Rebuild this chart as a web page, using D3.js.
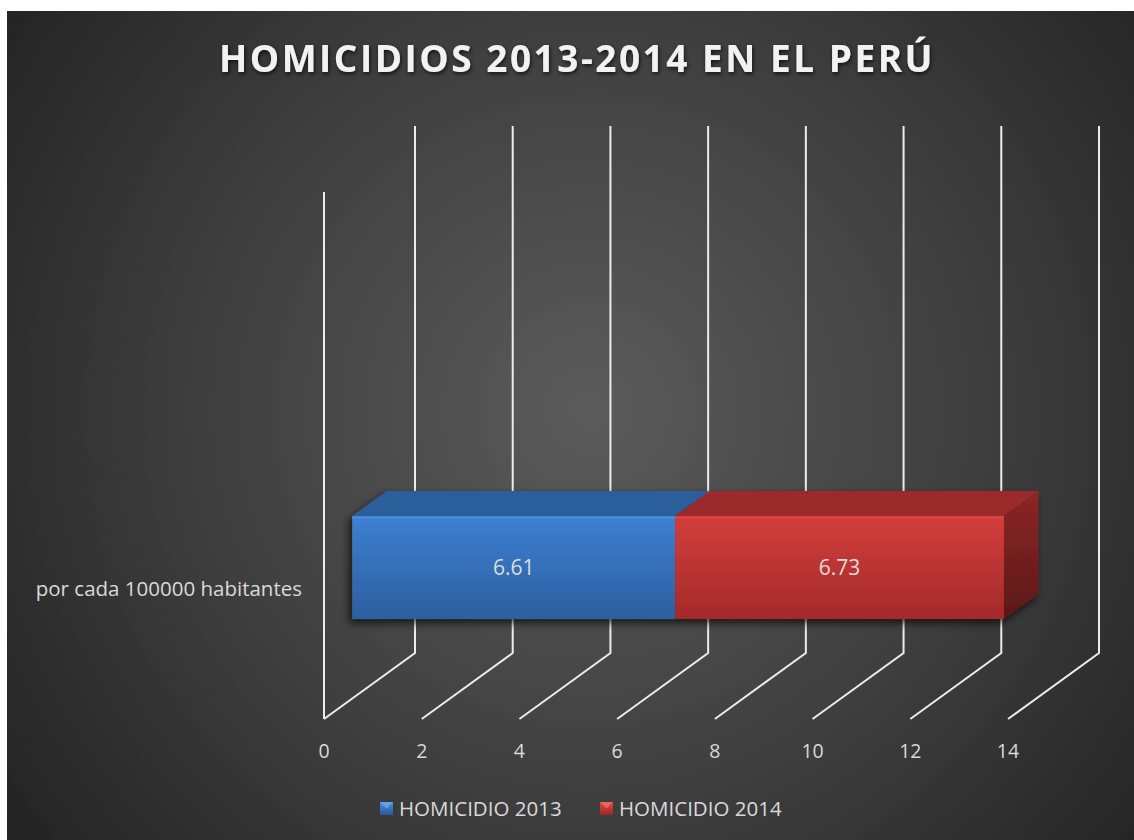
<!DOCTYPE html>
<html><head><meta charset="utf-8">
<script src="https://cdn.jsdelivr.net/npm/d3@7/dist/d3.min.js"></script>
<style>html,body{margin:0;padding:0;background:#fff;}svg{display:block;}</style>
</head><body>
<script>
const categories = ["por cada 100000 habitantes"];
const series = ["HOMICIDIO 2013", "HOMICIDIO 2014"];
const values2013 = [6.61];
const values2014 = [6.73];
const xTicks = [0, 2, 4, 6, 8, 10, 12, 14];
const titleText = "HOMICIDIOS 2013-2014 EN EL PERÚ";

const W = 1134, H = 840;
const svg = d3.select("body").append("svg").attr("width", W).attr("height", H);
const defs = svg.append("defs");

// background
const bg = defs.append("radialGradient").attr("id","bg").attr("gradientUnits","userSpaceOnUse")
  .attr("cx",590).attr("cy",410).attr("r",720);
bg.append("stop").attr("offset","0").attr("stop-color","#5b5b5b");
bg.append("stop").attr("offset","0.55").attr("stop-color","#3e3e3e");
bg.append("stop").attr("offset","1").attr("stop-color","#232323");
svg.append("rect").attr("x",7).attr("y",11).attr("width",W-7).attr("height",H-11).attr("fill","url(#bg)");

function vGrad(id, c1, c2){
  const g = defs.append("linearGradient").attr("id",id).attr("x1",0).attr("y1",0).attr("x2",0).attr("y2",1);
  g.append("stop").attr("offset","0").attr("stop-color",c1);
  g.append("stop").attr("offset","1").attr("stop-color",c2);
}
vGrad("blueFront","#3d80d2","#2d5e9f");
vGrad("redFront","#d33e3c","#a32a29");
vGrad("redSide","#8c2626","#5c1818");
vGrad("blueSide","#2a558c","#1e3f6a");
vGrad("legBlue","#4a8ee0","#2a5a9a");
vGrad("legRed","#e04848","#9c2626");

const sh = defs.append("filter").attr("id","shadow").attr("x","-20%").attr("y","-30%").attr("width","140%").attr("height","160%");
sh.append("feGaussianBlur").attr("in","SourceAlpha").attr("stdDeviation",4).attr("result","b");
sh.append("feOffset").attr("in","b").attr("dx",-3).attr("dy",4).attr("result","o");
sh.append("feComponentTransfer").attr("in","o").attr("result","o2").append("feFuncA").attr("type","linear").attr("slope",0.7);
const m = sh.append("feMerge"); m.append("feMergeNode").attr("in","o2"); m.append("feMergeNode").attr("in","SourceGraphic");

const ts = defs.append("filter").attr("id","tshadow").attr("x","-5%").attr("y","-30%").attr("width","110%").attr("height","160%");
ts.append("feDropShadow").attr("dx",1).attr("dy",2).attr("stdDeviation",2).attr("flood-color","#000").attr("flood-opacity",0.7);

// 3D projection
const floorY = 719, wallH = 527, depthDX = 91, depthDY = -66;
const x = d3.scaleLinear().domain([0, 14]).range([324, 1008]);
const yBand = d3.scaleBand().domain(categories).range([0, wallH]).paddingInner(0).paddingOuter(2.06).align(0.1875);
function P(v, h, d){ return [x(v) + depthDX*d, floorY - h - (-depthDY)*d]; }
const line = d3.line();

const gridG = svg.append("g").attr("stroke","#ececec").attr("stroke-width",2).attr("fill","none").attr("stroke-linecap","butt");
gridG.append("path").attr("d", line([P(0,0,0), P(0,wallH,0)]));
xTicks.forEach(t => {
  gridG.append("path").attr("d", line([P(t,0,0), P(t,0,1), P(t,wallH,1)]));
});

// tick labels
svg.append("g").selectAll("text").data(xTicks).join("text")
  .attr("x", d => x(d)).attr("y", 758).attr("text-anchor","middle")
  .attr("font-family","'Open Sans', sans-serif").attr("font-size",19.5).attr("fill","#d9d9d9")
  .text(d => d);

// bars
const d0 = 0.31, d1 = 0.69;
const barG = svg.append("g").attr("filter","url(#shadow)");
categories.forEach((c, i) => {
  const h0 = yBand(c), h1 = yBand(c) + yBand.bandwidth();
  const segs = [
    {s: 0, e: values2013[i], front: "url(#blueFront)", top: "#2c5e9b", side: "url(#blueSide)", label: values2013[i]},
    {s: values2013[i], e: values2013[i] + values2014[i], front: "url(#redFront)", top: "#9b2b2a", side: "url(#redSide)", label: values2014[i]}
  ];
  segs.forEach((sg, k) => {
    barG.append("path").attr("fill", sg.top)
      .attr("d", line([P(sg.s,h1,d0), P(sg.s,h1,d1), P(sg.e,h1,d1), P(sg.e,h1,d0)]) + "Z");
    const a = P(sg.s,h1,d0), b = P(sg.e,h0,d0);
    barG.append("rect").attr("x", a[0]).attr("y", a[1]).attr("width", b[0]-a[0]).attr("height", b[1]-a[1]).attr("fill", sg.front);
    barG.append("line").attr("x1",a[0]).attr("x2",b[0]).attr("y1",a[1]+1.5).attr("y2",a[1]+1.5)
      .attr("stroke", k===0 ? "#4a8ddf" : "#e04643").attr("stroke-width",2);
    if (k === segs.length - 1) {
      barG.append("path").attr("fill", sg.side)
        .attr("d", line([P(sg.e,h1,d0), P(sg.e,h1,d1), P(sg.e,h0,d1), P(sg.e,h0,d0)]) + "Z");
    }
  });
  segs.forEach(sg => {
    const c0 = P((sg.s+sg.e)/2, (h0+h1)/2, d0);
    svg.append("text").attr("x", c0[0]).attr("y", c0[1]+7).attr("text-anchor","middle")
      .attr("font-family","'Open Sans', sans-serif").attr("font-size",21).attr("fill","#dcdcdc")
      .text(sg.label.toFixed(2));
  });
  const lp = P(0, (h0+h1)/2, 0);
  svg.append("text").attr("x", 302).attr("y", lp[1]+8).attr("text-anchor","end")
    .attr("font-family","'Open Sans', sans-serif").attr("font-size",20.5).attr("fill","#d9d9d9")
    .text(c);
});

// title
svg.append("text").attr("x", 577).attr("y", 72).attr("text-anchor","middle")
  .attr("font-family","'Open Sans', sans-serif").attr("font-weight","bold").attr("font-size",37)
  .attr("letter-spacing", 2.5).attr("fill","#f2f2f2").attr("filter","url(#tshadow)")
  .text(titleText);

// legend
const legX = [380, 600];
const legFills = ["url(#legBlue)", "url(#legRed)"];
series.forEach((s, i) => {
  svg.append("rect").attr("x", legX[i]).attr("y", 802).attr("width", 13).attr("height", 13).attr("fill", legFills[i]);
  svg.append("path").attr("d", `M${legX[i]},802 L${legX[i]+13},802 L${legX[i]+6.5},808.5 Z`).attr("fill", i===0 ? "#6aa6ee" : "#f06a6a").attr("opacity",0.8);
  svg.append("text").attr("x", legX[i] + 19).attr("y", 815.5)
    .attr("font-family","'Open Sans', sans-serif").attr("font-size",20.5).attr("fill","#d9d9d9")
    .text(s);
});
</script>
</body></html>
